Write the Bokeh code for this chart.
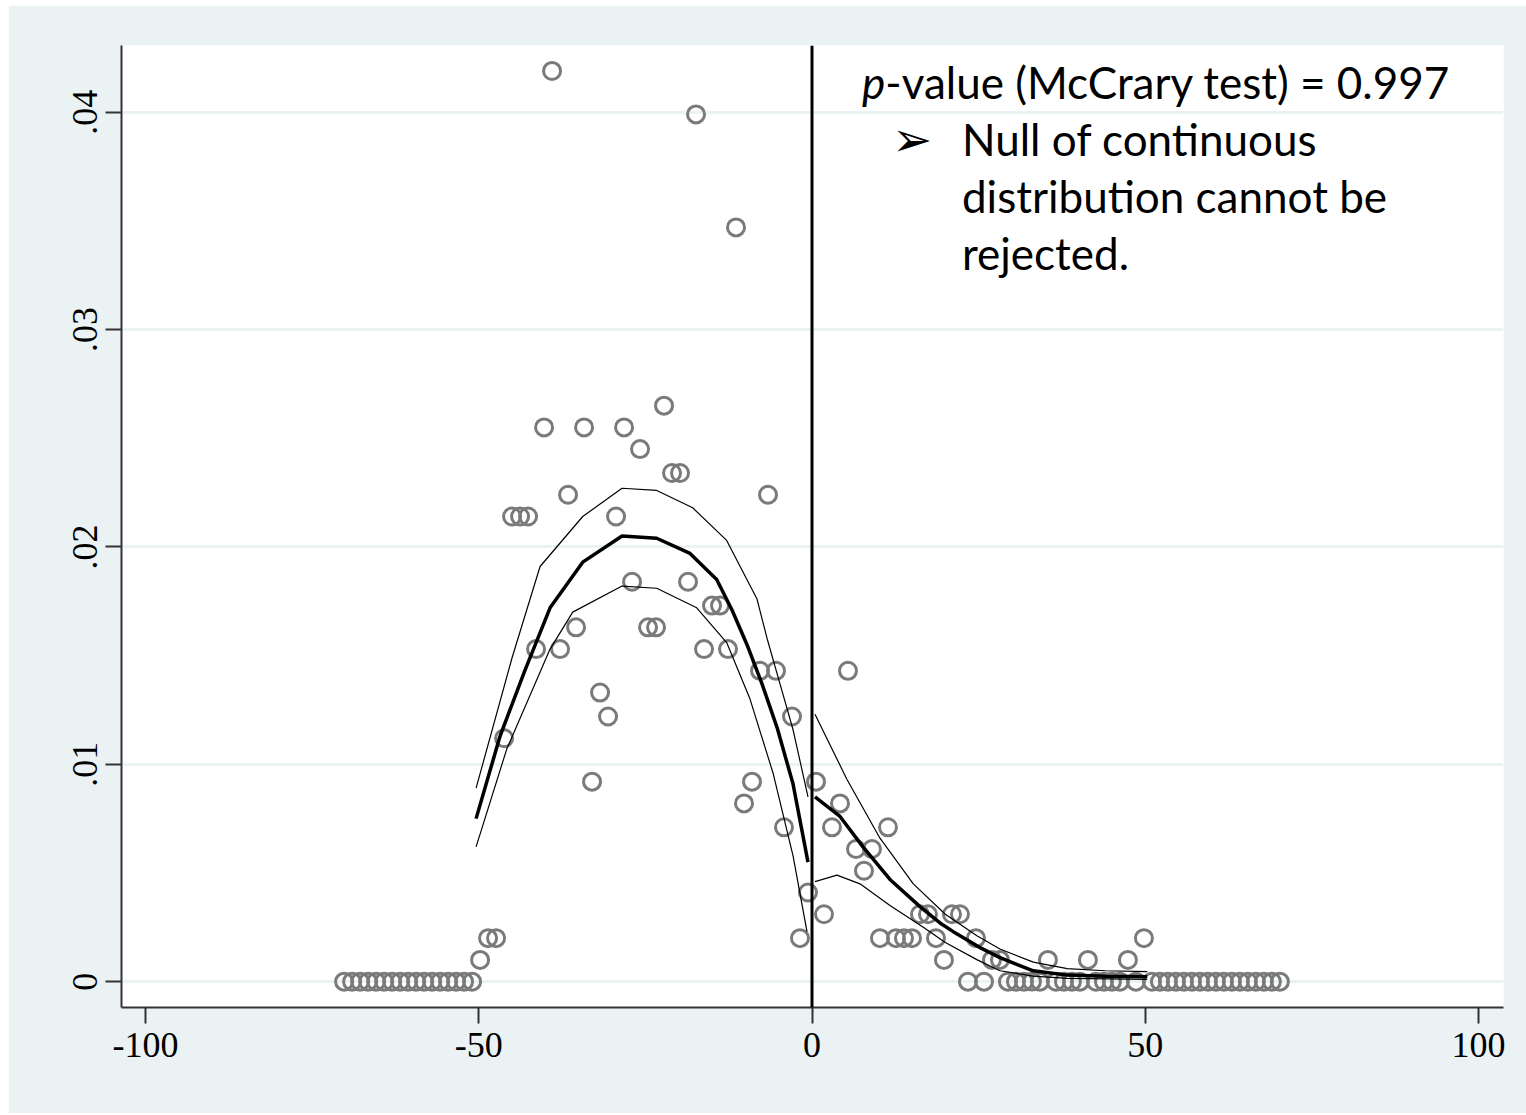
from bokeh.plotting import figure
from bokeh.models import Range1d, FixedTicker, Span, Label
from bokeh.embed import file_html
from bokeh.resources import INLINE

# ---- data: binned density (bin width 1.2, centres (k+0.5)*1.2) ----
bin_width = 1.2
bin_index = list(range(-59, 59))
bin_density = (
    [0.0] * 17 +                                   # k = -59 .. -43
    [0.001, 0.002, 0.002, 0.0112, 0.0214, 0.0214, 0.0214, 0.0153,
     0.0255, 0.0419, 0.0153, 0.0224, 0.0163, 0.0255, 0.0092, 0.0133,
     0.0122, 0.0214, 0.0255, 0.0184, 0.0245, 0.0163, 0.0163, 0.0265,
     0.0234, 0.0234, 0.0184, 0.0399, 0.0153, 0.0173, 0.0173, 0.0153,
     0.0347, 0.0082, 0.0092, 0.0143, 0.0224, 0.0143, 0.0071, 0.0122,
     0.002, 0.0041] +                               # k = -42 .. -1
    [0.0092, 0.0031, 0.0071, 0.0082, 0.0143, 0.0061, 0.0051, 0.0061,
     0.002, 0.0071, 0.002, 0.002, 0.002, 0.0031, 0.0031, 0.002,
     0.001, 0.0031, 0.0031, 0.0, 0.002, 0.0, 0.001, 0.001,
     0.0, 0.0, 0.0, 0.0, 0.0, 0.001, 0.0, 0.0,
     0.0, 0.0, 0.001, 0.0, 0.0, 0.0, 0.0, 0.001,
     0.0, 0.002] +                                  # k = 0 .. 41
    [0.0] * 17                                     # k = 42 .. 58
)
bin_x = [(k + 0.5) * bin_width for k in bin_index]

# ---- fitted density and confidence bands, left of cutoff ----
left_x = [-50.4, -46.8, -43.1, -39.3, -34.4, -28.5, -23.3, -18.3, -14.3,
          -12.0, -9.75, -7.5, -5.25, -2.85, -0.6]
left_fit = [0.0075, 0.0113, 0.0143, 0.0172, 0.0193, 0.0205, 0.0204, 0.0197,
            0.0185, 0.0171, 0.0155, 0.0137, 0.0117, 0.0091, 0.0055]
left_hi_x = [-50.4, -45.0, -40.8, -34.4, -28.5, -23.3, -17.9, -12.8, -8.25,
             -6.75, -4.8, -2.85, -0.6]
left_hi = [0.0089, 0.0149, 0.0191, 0.0214, 0.0227, 0.0226, 0.0218, 0.0203,
           0.0176, 0.0158, 0.0137, 0.0116, 0.0085]
left_lo_x = [-50.4, -45.8, -39.3, -35.9, -28.5, -23.3, -17.3, -12.8, -9.3,
             -5.85, -2.85, -0.75]
left_lo = [0.0062, 0.0107, 0.0153, 0.0170, 0.0182, 0.0181, 0.0172, 0.0156,
           0.0130, 0.0096, 0.0058, 0.0023]

# ---- right of cutoff ----
right_x = [0.45, 4.2, 7.65, 11.7, 16.2, 19.2, 21.2, 25.0, 28.2, 33.2, 38.3,
           44.0, 50.3]
right_fit = [0.0085, 0.0076, 0.0062, 0.0047, 0.00345, 0.0027, 0.0023, 0.0016,
             0.0011, 0.0005, 0.0003, 0.00025, 0.00023]
right_hi_x = [0.45, 5.25, 10.2, 15.2, 20.0, 24.8, 28.2, 33.2, 38.3, 44.0, 50.3]
right_hi = [0.0123, 0.0093, 0.0066, 0.0045, 0.0031, 0.0021, 0.0015, 0.0009,
            0.0006, 0.0005, 0.00046]
right_lo_x = [0.45, 3.75, 7.2, 11.7, 16.7, 20.0, 24.8, 28.2, 33.2, 38.3, 50.3]
right_lo = [0.0046, 0.0049, 0.0045, 0.0035, 0.0025, 0.0018, 0.0010, 0.0005,
            0.00025, 0.00015, 0.0001]

cutoff = 0.0
x_ticks = [-100, -50, 0, 50, 100]
x_tick_labels = ["-100", "-50", "0", "50", "100"]
y_ticks = [0, 0.01, 0.02, 0.03, 0.04]
y_tick_labels = ["0", ".01", ".02", ".03", ".04"]

BG = "#eaf2f3"

p = figure(width=1518, height=1108,
           x_range=Range1d(-103.6, 103.75), y_range=Range1d(-0.00119, 0.04307),
           output_backend="svg", toolbar_location=None,
           min_border_left=113, min_border_right=23,
           min_border_top=40, min_border_bottom=106,
           background_fill_color="white", border_fill_color=BG,
           outline_line_color=None)
p.styles = {"margin-left": "8px", "margin-top": "5px"}

p.xgrid.visible = False
p.ygrid.grid_line_color = BG
p.ygrid.grid_line_width = 3

for ax in (p.xaxis[0], p.yaxis[0]):
    ax.axis_line_color = "#333333"
    ax.axis_line_width = 2
    ax.major_tick_line_color = "#333333"
    ax.major_tick_line_width = 2
    ax.major_tick_out = 16
    ax.major_tick_in = 0
    ax.minor_tick_line_color = None
    ax.major_label_text_font = "Liberation Serif"
    ax.major_label_text_font_size = "36px"
    ax.major_label_text_color = "black"

p.xaxis.ticker = FixedTicker(ticks=x_ticks)
p.xaxis.major_label_overrides = {v: s for v, s in zip(x_ticks, x_tick_labels)}
p.xaxis.major_label_standoff = 9
p.yaxis.ticker = FixedTicker(ticks=y_ticks)
p.yaxis.major_label_overrides = {v: s for v, s in zip(y_ticks, y_tick_labels)}
p.yaxis.major_label_orientation = "vertical"
p.yaxis.major_label_standoff = 8

p.scatter(bin_x, bin_density, marker="circle", size=17, fill_color=None,
          line_color="#7a7a7a", line_width=3)

p.line(left_x, left_fit, line_color="black", line_width=3.5)
p.line(left_hi_x, left_hi, line_color="black", line_width=1.2)
p.line(left_lo_x, left_lo, line_color="black", line_width=1.2)
p.line(right_x, right_fit, line_color="black", line_width=3.5)
p.line(right_hi_x, right_hi, line_color="black", line_width=1.2)
p.line(right_lo_x, right_lo, line_color="black", line_width=1.2)

p.add_layout(Span(location=cutoff, dimension="height", line_color="black",
                  line_width=3))

FONT = "Lato"
FS = "44px"
p.add_layout(Label(x=7.5, y=0.04018, text="p", text_font=FONT,
                   text_font_size=FS, text_font_style="italic",
                   text_color="black"))
p.add_layout(Label(x=11.0, y=0.04018, text="-value (McCrary test) = 0.997",
                   text_font=FONT, text_font_size=FS, text_color="black"))
p.add_layout(Label(x=12.0, y=0.03748, text="\u27a2", text_font="DejaVu Sans",
                   text_font_size="48px", text_color="black"))
p.add_layout(Label(x=22.5, y=0.03756, text="Null of continuous",
                   text_font=FONT, text_font_size=FS, text_color="black"))
p.add_layout(Label(x=22.5, y=0.03494, text="distribution cannot be",
                   text_font=FONT, text_font_size=FS, text_color="black"))
p.add_layout(Label(x=22.5, y=0.03232, text="rejected.",
                   text_font=FONT, text_font_size=FS, text_color="black"))

open("out.html", "w").write(file_html(p, INLINE))
